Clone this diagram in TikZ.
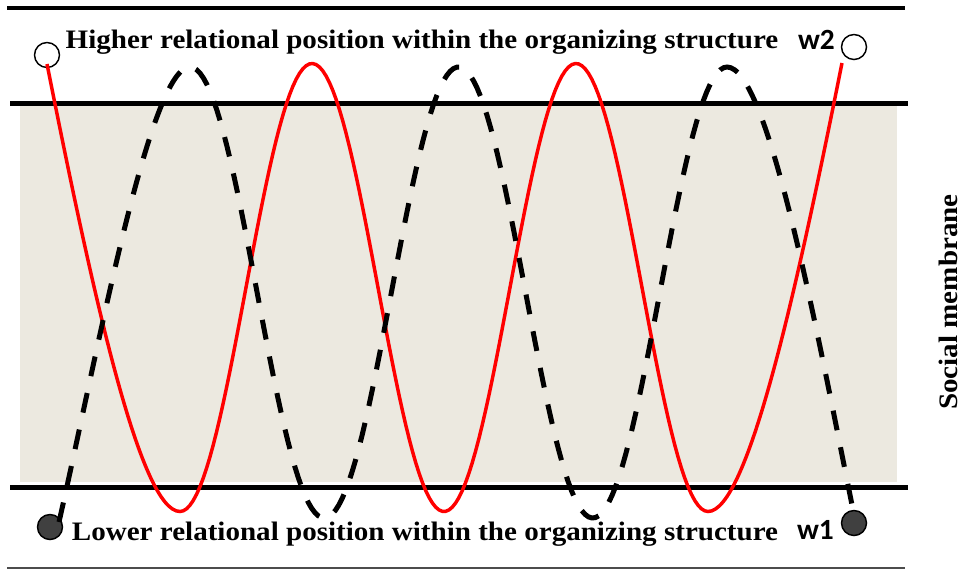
\documentclass[tikz,border=0pt]{standalone}
\usepackage{fontspec}
\setmainfont{Liberation Serif}
\newfontfamily\wfont{Carlito}
\definecolor{membrane}{RGB}{236,233,224}
\definecolor{circgray}{RGB}{64,64,64}
\definecolor{redline}{RGB}{255,0,0}
\begin{document}
\begin{tikzpicture}[x=0.75pt,y=-0.75pt,
  thickline/.style={line width=3.75pt},
  redwave/.style={redline, line width=2.6pt},
  blackwave/.style={black, line width=3.75pt, dash pattern=on 15pt off 13pt},
  opencirc/.style={circle, draw=black, fill=white, line width=1.1pt, minimum size=18.75pt, inner sep=0pt},
  filledcirc/.style={opencirc, fill=circgray},
  txt/.style={font=\fontsize{20}{24}\selectfont\bfseries, inner sep=0pt},
  wtxt/.style={font=\wfont\fontsize{22}{26}\selectfont\bfseries, inner sep=0pt}]
\useasboundingbox (0,0) rectangle (965,569);
% membrane band
\fill[membrane] (20,104) rectangle (897,482);
% horizontal rules
\draw[line width=3pt] (7,8) -- (905,8);
\draw[thickline] (10,103) -- (908,103);
\draw[thickline] (10,487) -- (908,487);
\draw[line width=1.1pt, black!70] (7,568) -- (905,568);
% end points
\node[opencirc] (hi1) at (47,55) {};
\node[opencirc] (hi2) at (854,47) {};
\node[filledcirc] (lo1) at (50,527) {};
\node[filledcirc] (lo2) at (854,523) {};
% red solid wave
\draw[redwave] (47,64) .. controls (92,290) and (140,511.5) .. (180,511.5)
  -- plot[domain=180:708, samples=160] (\x, {287.5+224*cos(((\x-180)/264)*360)})
  .. controls (748,511.5) and (797,288) .. (842,63);
% black dashed wave
\draw[blackwave] (59,522) .. controls (99,346) and (150,67) .. (190,67)
  -- plot[domain=190:727, samples=160] (\x, {292.5-225.5*cos(((\x-190)/268.5)*360)})
  .. controls (767,67) and (814,315) .. (854,515);
% texts
\node[txt, anchor=base] (hi) at (422,48) {\scalebox{1.09}[1]{Higher relational position within the organizing structure}};
\node[txt, anchor=base] (lo) at (425,540) {\scalebox{1.09}[1]{Lower relational position within the organizing structure}};
\node[wtxt, anchor=base] (w2) at (816.5,49) {w2};
\node[wtxt, anchor=base] (w1) at (815.5,539) {w1};
\node[txt, rotate=90, anchor=base] (sm) at (957,302) {\scalebox{1.09}[1]{Social membrane}};
\end{tikzpicture}
\end{document}
